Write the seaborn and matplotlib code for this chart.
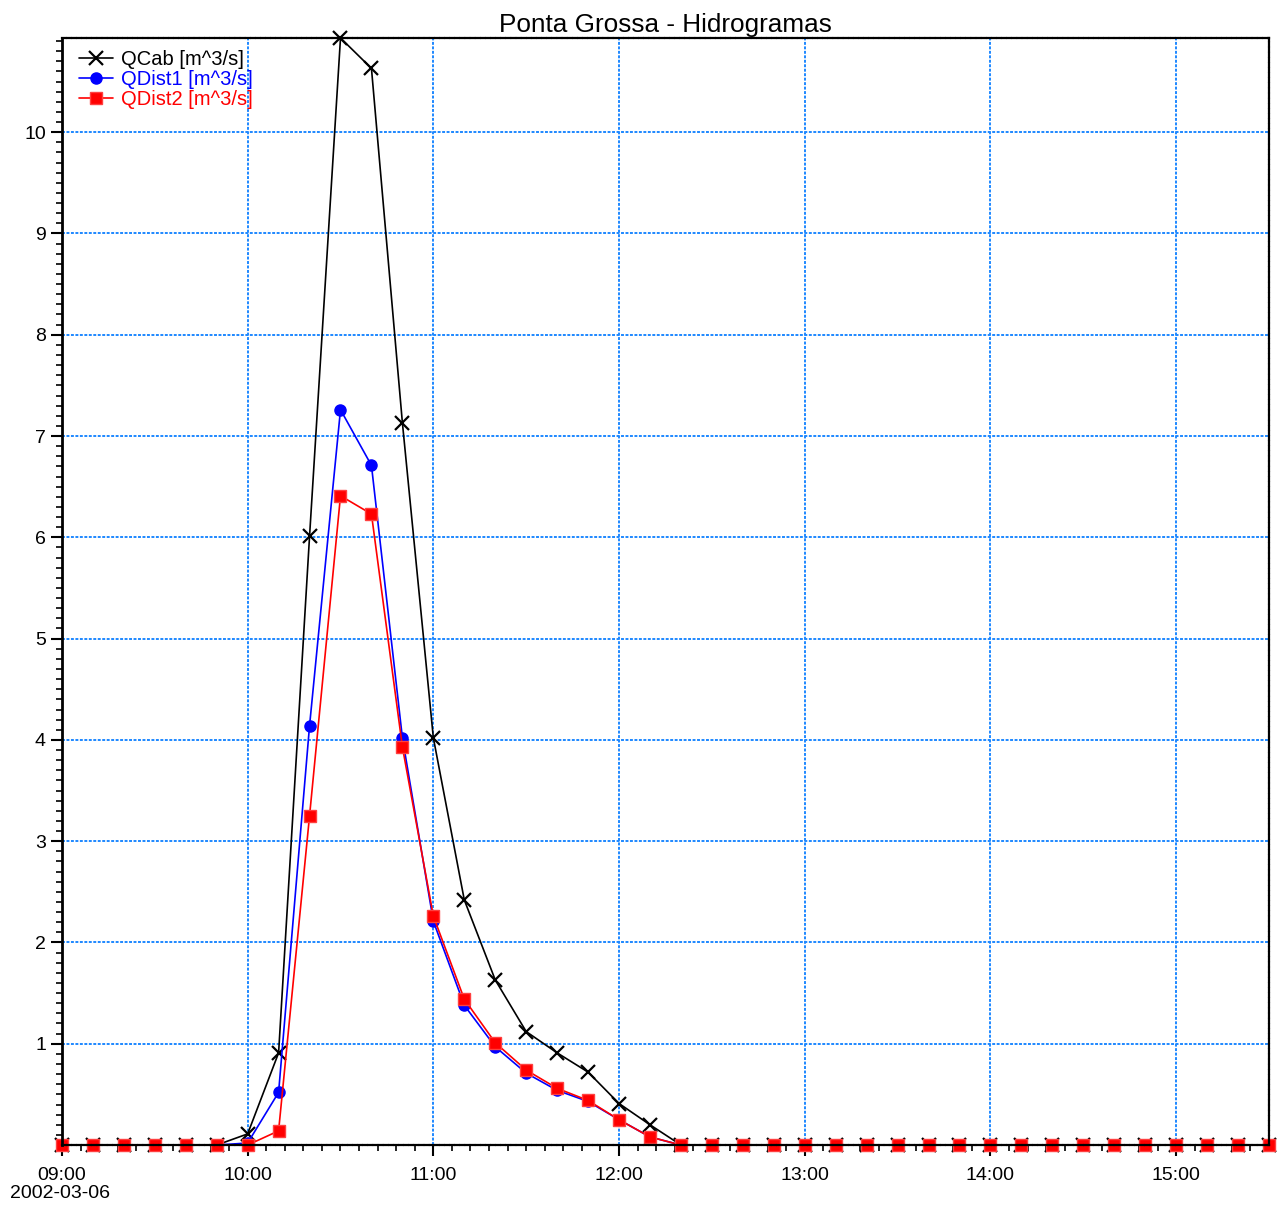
import numpy as np
import pandas as pd
import matplotlib
matplotlib.use("Agg")
import matplotlib.pyplot as plt
import matplotlib.dates as mdates
import seaborn as sns

# Series values (10 min steps, 09:00 - 15:30)
times = pd.date_range("2002-03-06 09:00", "2002-03-06 15:30", freq="10min")

q_cab = [0, 0, 0, 0, 0, 0, 0.11, 0.91, 6.01, 10.93, 10.63, 7.13, 4.02, 2.42,
         1.63, 1.12, 0.91, 0.72, 0.41, 0.20] + [0] * 20
q_dist1 = [0, 0, 0, 0, 0, 0, 0.02, 0.52, 4.14, 7.26, 6.71, 4.02, 2.21, 1.38,
           0.97, 0.71, 0.54, 0.43, 0.25, 0.08] + [0] * 20
q_dist2 = [0, 0, 0, 0, 0, 0, 0.0, 0.14, 3.25, 6.41, 6.23, 3.93, 2.26, 1.44,
           1.01, 0.74, 0.56, 0.44, 0.25, 0.08] + [0] * 20

labels = ["QCab [m^3/s]", "QDist1 [m^3/s]", "QDist2 [m^3/s]"]
colors = ["black", "blue", "red"]

df = pd.DataFrame({"time": times, "QCab": q_cab, "QDist1": q_dist1, "QDist2": q_dist2})

sns.set_style("white")
plt.rcParams['font.family'] = ['Liberation Sans', 'DejaVu Sans']
plt.rcParams['text.color'] = 'black'
plt.rcParams['xtick.color'] = 'black'
plt.rcParams['ytick.color'] = 'black'

fig = plt.figure(figsize=(12.8, 12.09), dpi=100)
ax = fig.add_axes([0.0484, 0.0529, 0.943, 0.9157])

sns.lineplot(x="time", y="QCab", data=df, ax=ax, color="black", marker="x",
             markersize=10, markeredgecolor="black", markeredgewidth=1.6,
             linewidth=1.2, label=labels[0], clip_on=False)
sns.lineplot(x="time", y="QDist1", data=df, ax=ax, color="blue", marker="o",
             markersize=8, markeredgecolor="blue", markeredgewidth=1,
             linewidth=1.2, label=labels[1], clip_on=False)
sns.lineplot(x="time", y="QDist2", data=df, ax=ax, color="red", marker="s",
             markersize=8, markeredgecolor="#ff4040", markeredgewidth=1,
             linewidth=1.2, label=labels[2], clip_on=False)

ax.set_xlim(times[0], times[-1])
ax.set_ylim(0, 10.93)
ax.set_xlabel("")
ax.set_ylabel("")
ax.set_title("Ponta Grossa - Hidrogramas", fontsize=18.8, pad=4, color="black")

ax.xaxis.set_major_locator(mdates.HourLocator())
ax.xaxis.set_major_formatter(mdates.DateFormatter("%H:%M"))
ax.xaxis.set_minor_locator(mdates.MinuteLocator(byminute=range(0, 60, 6)))
ax.set_yticks(range(1, 11))
ax.yaxis.set_minor_locator(matplotlib.ticker.MultipleLocator(0.1))

ax.tick_params(axis="both", which="major", direction="out", length=8, width=1.5,
               labelsize=14, bottom=True, left=True, labelcolor="black")
ax.tick_params(axis="both", which="minor", direction="out", length=4, width=1.2,
               bottom=True, left=True)
ax.tick_params(axis="x", pad=8)

ax.grid(True, which="major", color="#1e88ff", linestyle=(0, (1.5, 0.8)), linewidth=1.4)

ax.spines["left"].set_linewidth(2)
ax.spines["left"].set_color("black")
for side in ["top", "bottom", "right"]:
    ax.spines[side].set_linestyle((0, (1.5, 0.8)))
    ax.spines[side].set_linewidth(1.6)
    ax.spines[side].set_color("black")

leg = ax.legend(loc="upper left", frameon=False, fontsize=14.5, handlelength=1.7,
                handletextpad=0.4, borderaxespad=0.2, labelspacing=0.05,
                bbox_to_anchor=(0.004, 1.0))
for text, c in zip(leg.get_texts(), colors):
    text.set_color(c)

fig.text(0.008, 0.0055, "2002-03-06", fontsize=14, ha="left", va="bottom")

fig.savefig("out.png", dpi=100)
